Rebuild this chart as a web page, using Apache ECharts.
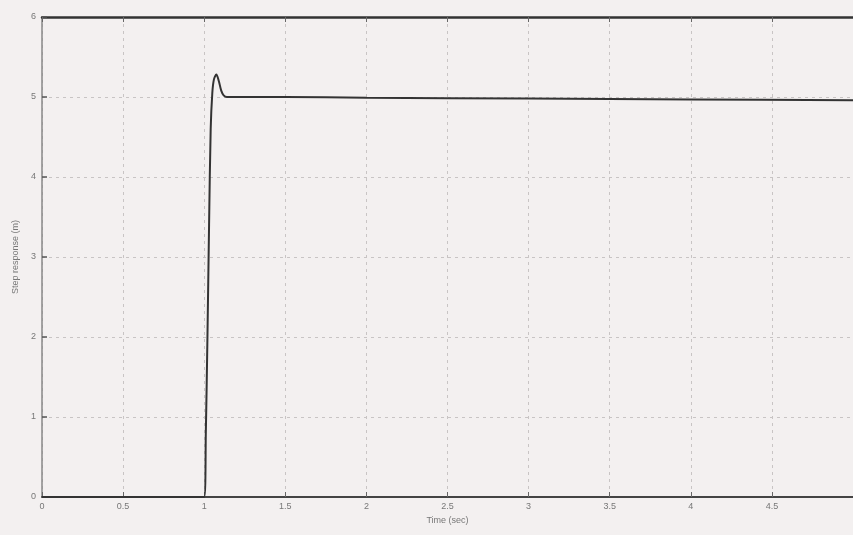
<!DOCTYPE html>
<html>
<head>
<meta charset="utf-8">
<script src="https://cdn.jsdelivr.net/npm/echarts@6/dist/echarts.min.js"></script>
<style>
html,body{margin:0;padding:0;background:#f3f0f0;}
#chart{width:853px;height:535px;}
</style>
</head>
<body>
<div id="chart"></div>
<script>
// Step response samples: time (s) and response (m)
const timeValues = [0, 0.5, 1.0, 1.01, 1.02, 1.03, 1.04, 1.05, 1.06, 1.075, 1.09, 1.105, 1.12, 1.14, 1.5, 2, 3, 4, 5];
const responseValues = [0, 0, 0, 0.8, 2.0, 3.4, 4.6, 5.05, 5.22, 5.28, 5.2, 5.08, 5.02, 5.0, 5.0, 4.99, 4.98, 4.97, 4.96];
const xTickLabels = ['0', '0.5', '1', '1.5', '2', '2.5', '3', '3.5', '4', '4.5', '5'];
const yTickLabels = ['0', '1', '2', '3', '4', '5', '6'];
const xAxisTitle = 'Time (sec)';
const yAxisTitle = 'Step response (m)';

const chart = echarts.init(document.getElementById('chart'));
const labelStyle = {color: '#777', fontSize: 9, fontFamily: 'Liberation Sans, Arial, sans-serif'};
chart.setOption({
  backgroundColor: '#f3f0f0',
  animation: false,
  grid: {left: 42, right: -3, top: 17, bottom: 38},
  xAxis: [{
    type: 'value', min: 0, max: 5, interval: 0.5,
    name: xAxisTitle, nameLocation: 'middle', nameGap: 19,
    nameTextStyle: {color: '#777', fontSize: 9},
    axisLine: {lineStyle: {color: '#444', width: 2}},
    axisTick: {inside: true, length: 5, lineStyle: {color: '#666'}},
    axisLabel: Object.assign({margin: 5, showMaxLabel: false,
      formatter: v => xTickLabels[Math.round(v * 2)]}, labelStyle),
    splitLine: {show: true, lineStyle: {color: '#c8c4c4', type: [3, 4], width: 1}}
  }, {
    type: 'value', min: 0, max: 5, interval: 0.5, position: 'top',
    axisLine: {lineStyle: {color: '#333', width: 2.5}},
    axisTick: {inside: true, length: 5, lineStyle: {color: '#666'}},
    axisLabel: {show: false}, splitLine: {show: false}
  }],
  yAxis: {
    type: 'value', min: 0, max: 6, interval: 1,
    name: yAxisTitle, nameLocation: 'middle', nameGap: 22, nameRotate: 90,
    nameTextStyle: {color: '#777', fontSize: 9},
    axisLine: {show: true, lineStyle: {color: '#888', width: 1.5}},
    axisTick: {inside: true, length: 5, lineStyle: {color: '#555', width: 1.5}},
    axisLabel: Object.assign({margin: 6, formatter: v => yTickLabels[Math.round(v)]}, labelStyle),
    splitLine: {show: true, lineStyle: {color: '#c8c4c4', type: [3, 4], width: 1}}
  },
  series: [{
    type: 'line', xAxisIndex: 0,
    data: timeValues.map((t, i) => [t, responseValues[i]]),
    showSymbol: false, smooth: 0.3,
    lineStyle: {color: '#333', width: 2}
  }]
});
</script>
</body>
</html>
